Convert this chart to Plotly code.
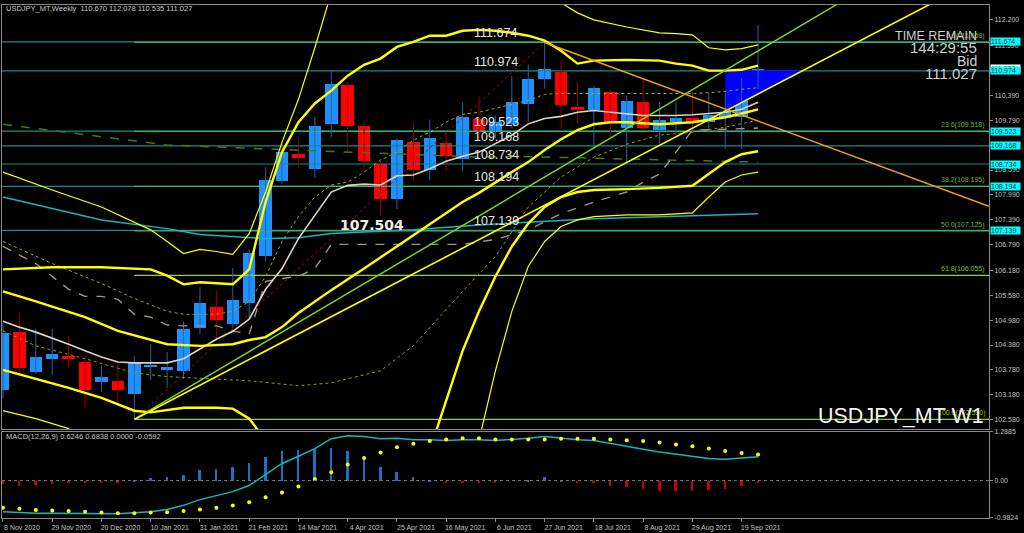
import pandas as pd
import plotly.graph_objects as go

# ---------------- data ----------------
START = pd.Timestamp("2020-11-08")
N = 47
dates = [START + pd.Timedelta(days=7 * i) for i in range(N)]

opens = [103.30, 104.70, 103.74, 104.04, 104.12, 103.96, 103.48, 103.52, 103.20, 103.85,
         103.79, 103.76, 104.78, 105.30, 104.89, 105.38, 106.51, 108.32, 108.98, 108.61,
         109.70, 110.63, 109.66, 108.74, 107.90, 109.26, 108.58, 109.23, 108.86, 109.82,
         109.50, 109.70, 110.17, 110.79, 110.95, 110.10, 110.04, 110.47, 109.60, 110.22,
         109.56, 109.74, 109.83, 109.75, 109.83, 109.87, 110.670]
highs = [104.90, 105.15, 104.77, 104.77, 104.60, 104.13, 103.88, 103.92, 104.12, 104.40,
         104.21, 104.95, 105.77, 105.69, 106.23, 106.69, 108.66, 109.22, 109.36, 109.86,
         110.97, 110.71, 109.78, 108.82, 109.35, 109.71, 109.80, 109.51, 110.22, 110.36,
         109.90, 110.85, 111.13, 111.658, 111.21, 110.71, 110.61, 110.53, 110.38, 110.77,
         110.23, 110.23, 110.47, 110.45, 110.45, 110.80, 112.078]
lows = [103.10, 103.64, 103.69, 103.66, 103.82, 102.87, 103.26, 102.96, 102.59, 103.54,
        103.35, 103.56, 104.64, 104.48, 104.79, 105.03, 106.39, 108.26, 108.64, 108.40,
        109.38, 109.02, 108.62, 107.504, 107.65, 108.34, 108.34, 108.57, 108.56, 109.34,
        109.35, 109.59, 109.74, 110.55, 109.58, 109.72, 109.10, 109.38, 108.76, 109.54,
        109.18, 109.48, 109.50, 109.50, 109.10, 109.10, 110.535]
closes = [104.68, 103.82, 104.08, 104.17, 104.04, 103.30, 103.62, 103.31, 103.96, 103.90,
          103.84, 104.76, 105.39, 104.97, 105.47, 106.59, 108.36, 109.02, 108.88, 109.64,
          110.67, 109.66, 108.80, 107.90, 109.32, 108.60, 109.36, 108.92, 109.86, 109.54,
          109.74, 110.22, 110.79, 111.01, 110.15, 110.04, 110.56, 109.74, 110.26, 109.59,
          109.80, 109.83, 109.72, 109.91, 109.98, 110.78, 111.027]

# MACD panel (values per candle)
macd_main = [-0.82, -0.845, -0.855, -0.855, -0.855, -0.87, -0.87, -0.87, -0.845, -0.82,
             -0.76, -0.65, -0.50, -0.39, -0.29, -0.13, 0.17, 0.45, 0.64, 0.84,
             1.10, 1.18, 1.16, 1.10, 1.11, 1.07, 1.07, 1.05, 1.07, 1.07,
             1.05, 1.08, 1.11, 1.16, 1.11, 1.07, 1.05, 0.97, 0.91, 0.82,
             0.75, 0.69, 0.64, 0.58, 0.56, 0.60, 0.6246]
macd_signal = [-0.715, -0.74, -0.77, -0.785, -0.80, -0.82, -0.835, -0.855, -0.855, -0.835,
               -0.83, -0.80, -0.76, -0.715, -0.655, -0.57, -0.44, -0.31, -0.155, 0.044,
               0.22, 0.425, 0.596, 0.736, 0.873, 0.97, 1.04, 1.08, 1.11, 1.11,
               1.08, 1.08, 1.08, 1.08, 1.10, 1.10, 1.10, 1.08, 1.06, 1.04,
               1.00, 0.95, 0.90, 0.84, 0.78, 0.725, 0.6838]
macd_hist = [-0.07, -0.13, -0.11, -0.08, -0.04, -0.04, -0.04, -0.03, 0.03, 0.08,
             0.10, 0.17, 0.30, 0.33, 0.38, 0.47, 0.64, 0.78, 0.82, 0.84,
             0.88, 0.79, 0.58, 0.36, 0.25, 0.10, 0.04, -0.04, -0.04, -0.04,
             -0.04, 0.0, 0.04, 0.10, 0.03, -0.03, -0.04, -0.14, -0.16, -0.22,
             -0.25, -0.26, -0.26, -0.24, -0.22, -0.14, -0.0592]

# horizontal levels
levels = [111.674, 110.974, 109.523, 109.168, 108.734, 108.194, 107.139]
level_labels = ["111.674", "110.974", "109.523", "109.168", "108.734", "108.194", "107.139"]
bid_price = 111.027
low_label = 107.504

# fibonacci (anchored low -> high)
fib_low_idx, fib_high_idx = 8, 33
fib_prices = [111.658, 109.518, 108.195, 107.125, 106.055, 102.590]
fib_names = ["0.0(111.658)", "23.6(109.518)", "38.2(108.195)", "50.0(107.125)",
             "61.8(106.055)", "100.0(102.590)"]

# trend lines (two anchor points each: week index, price)
tl_yellow = ([8, 48.7], [102.59, 110.974])
tl_green = ([8, 41.7], [102.59, 110.45])
tl_orange = ([33, 60], [111.658, 107.73])
triangle_idx = [44, 48.7, 44]
triangle_price = [110.974, 110.974, 110.0]

# indicator lines (week index, price)
ma_beige_idx = list(range(N))
ma_beige = [104.95, 104.81, 104.69, 104.55, 104.40, 104.24, 104.09, 103.97, 103.95, 103.95,
            103.95, 104.05, 104.28, 104.52, 104.71, 105.00, 105.72, 106.22, 106.94, 107.50,
            108.06, 108.22, 108.25, 108.23, 108.45, 108.47, 108.62, 108.80, 108.92, 109.02,
            109.22, 109.43, 109.70, 109.83, 109.88, 109.98, 110.02, 109.98, 109.95, 109.90,
            109.90, 109.90, 109.92, 109.95, 109.98, 110.05, 110.22]
gray_dash_idx = [0, 2, 4, 5, 6, 7, 8, 9, 10, 11, 13, 14, 15, 16, 17, 18, 19, 20, 28, 30,
                 32, 34, 36, 38, 39, 40, 41, 42, 44, 46]
gray_dash = [106.75, 106.34, 105.72, 105.55, 105.55, 105.48, 105.12, 105.05, 104.86, 104.84,
             104.84, 104.72, 104.64, 105.91, 105.98, 106.03, 106.22, 106.80, 106.80, 106.92,
             107.15, 107.54, 107.82, 108.06, 108.30, 108.49, 109.02, 109.55, 109.57, 109.60]
olive_a_idx = [0, 3, 6, 8, 10, 11, 13, 14, 15, 16, 17, 18, 19, 20, 21, 22, 23, 24, 25, 26,
               27, 28, 29, 30, 31, 32, 33, 34, 36, 42, 43, 44, 45, 46]
olive_a = [106.87, 106.34, 105.86, 105.50, 105.19, 105.12, 105.12, 105.19, 105.43, 106.03,
           106.87, 107.47, 107.94, 108.23, 108.30, 108.54, 108.83, 109.02, 109.31, 109.50,
           109.74, 109.93, 109.98, 110.07, 110.17, 110.26, 110.41, 110.43, 110.43, 110.43,
           110.45, 110.48, 110.53, 110.57]
olive_b_idx = [0, 2, 5, 8, 10, 13, 15, 18, 20, 23, 25, 28, 30, 32, 34, 36, 38, 40, 42, 44, 46]
olive_b = [104.72, 104.36, 104.05, 103.71, 103.62, 103.57, 103.52, 103.40, 103.47, 103.76,
           104.36, 105.67, 106.51, 107.70, 108.42, 108.90, 109.21, 109.43, 109.50, 109.62, 109.79]
cyan_idx = [0, 3, 6, 10, 12, 16, 18, 20, 25, 29, 33, 36, 42, 46]
cyan_ma = [107.94, 107.66, 107.39, 107.18, 107.04, 106.94, 106.96, 107.06, 107.15, 107.27,
           107.35, 107.42, 107.49, 107.54]
green_dash_idx = [0, 10, 29, 31, 46]
green_dash = [109.69, 109.19, 108.90, 108.92, 108.78]
bb_mid_idx = [0, 2, 5, 7, 10, 12, 14, 15, 16, 17, 18, 20, 22, 24, 26, 28, 29, 30, 31, 32,
              33, 34, 35, 36, 37, 38, 40, 42, 44, 45, 46]
bb_mid = [105.67, 105.43, 105.05, 104.72, 104.40, 104.36, 104.40, 104.50, 104.57, 104.81,
          105.15, 105.70, 106.22, 106.75, 107.30, 107.82, 108.04, 108.30, 108.54, 108.78,
          109.07, 109.33, 109.55, 109.69, 109.74, 109.74, 109.69, 109.74, 109.86, 109.95, 110.05]
bb_up_idx = [0, 3, 6, 9] + list(range(10, 37)) + [38, 40, 41, 42, 43, 44, 45, 46]
bb_up = [106.20, 106.25, 106.25, 106.20,
         106.05, 105.84, 105.89, 105.86, 105.84, 106.20, 107.82, 109.02, 109.74, 110.19,
         110.50, 110.86, 111.12, 111.27, 111.55, 111.67, 111.82, 111.82, 111.94, 111.96,
         111.94, 111.89, 111.82, 111.70, 111.46, 111.15, 111.22,
         111.24, 111.22, 111.15, 111.10, 110.98, 110.98, 111.00, 111.10]
bb_lo_idx = [0, 2, 4, 6, 8, 9, 11, 13, 14, 15, 16, 17, 20, 24, 26, 27, 28, 29, 30, 31,
             32, 33, 34, 35, 36, 38, 40, 42, 43, 44, 45, 46]
bb_lo = [103.78, 103.57, 103.35, 103.11, 102.80, 102.76, 102.87, 102.87, 102.85, 102.61,
         102.09, 100.65, 98.26, 98.26, 101.85, 103.04, 104.24, 105.19, 106.03, 106.75,
         107.30, 107.70, 107.94, 108.06, 108.11, 108.13, 108.16, 108.21, 108.49, 108.78,
         108.97, 109.04]
env_up_idx = [0, 3, 6, 9] + list(range(10, 21)) + [22, 25, 28, 31, 33, 34, 35, 36, 38, 40,
                                                   41, 42, 43, 44, 45, 46]
env_up = [108.54, 108.11, 107.70, 107.15,
          106.87, 106.58, 106.68, 106.63, 106.56, 107.06, 108.06, 109.26, 110.29, 111.53, 112.85,
          114.04, 114.76, 114.76, 114.04, 113.08, 112.61, 112.37, 112.20, 112.03, 111.89,
          111.87, 111.84, 111.53, 111.48, 111.51, 111.60]
env_lo_idx = [0, 2, 4, 5, 8, 20, 28, 29, 30, 31, 32, 33, 34, 35, 36, 38, 40, 42, 43, 44, 45, 46]
env_lo = [102.80, 102.61, 102.37, 101.97, 100.17, 97.00, 100.65, 102.09, 103.76, 105.19,
          106.27, 106.87, 107.23, 107.39, 107.47, 107.51, 107.51, 107.56, 107.94, 108.30,
          108.47, 108.54]

# ---------------- helpers ----------------
def wk(i):
    return START + pd.Timedelta(days=7 * i)

def wks(idx):
    return [wk(i) for i in idx]

X0, X1 = wk(-0.06), wk(60.07)
WEEK_MS = 7 * 24 * 3600 * 1000
FONT = "Liberation Sans, Arial, sans-serif"

def ray(pts, end_idx=60.07):
    (i0, i1), (p0, p1) = pts
    slope = (p1 - p0) / (i1 - i0)
    return [wk(i0), wk(end_idx)], [p0, p0 + slope * (end_idx - i0)]

fig = go.Figure()

def line(x, y, color, width=1, dash="solid", xa="x", ya="y"):
    fig.add_trace(go.Scatter(x=x, y=y, mode="lines", xaxis=xa, yaxis=ya,
                             line=dict(color=color, width=width, dash=dash),
                             hoverinfo="skip", showlegend=False))

# horizontal teal levels (full width)
for lv in levels:
    line([X0, X1], [lv, lv], "#138c8c", 1.2)

# blue triangle object
fig.add_trace(go.Scatter(x=wks(triangle_idx), y=triangle_price, fill="toself",
                         fillcolor="#0000ff", mode="lines", line=dict(color="#0000ff", width=1),
                         hoverinfo="skip", showlegend=False))

# fibonacci levels
fib_colors = ["#3cb371", "#3cb371", "#3cb371", "#3cb371", "#9acd32", "#9acd32"]
for fp, fc in zip(fib_prices, fib_colors):
    line([wk(fib_low_idx), X1], [fp, fp], fc, 1.3)
line([wk(fib_low_idx), wk(fib_high_idx)], [fib_prices[-1], fib_prices[0]], "#a01010", 1, "dot")

# candles: wicks
up = [c >= o for o, c in zip(opens, closes)]
for flag, col in [(True, "#2464a8"), (False, "#9a0000")]:
    wx, wy = [], []
    for i in range(N):
        if up[i] == flag:
            wx += [dates[i], dates[i], None]
            wy += [lows[i], highs[i], None]
    line(wx, wy, col, 1)

# candles: bodies
fig.add_trace(go.Bar(
    x=dates,
    y=[max(abs(c - o), 0.03) for o, c in zip(opens, closes)],
    base=[min(o, c) for o, c in zip(opens, closes)],
    width=0.76 * WEEK_MS,
    marker=dict(color=["#1e90ff" if u else "#ff0000" for u in up], line=dict(width=0)),
    hoverinfo="skip", showlegend=False))

# indicators
line(wks(cyan_idx), cyan_ma, "#18b4c4", 1.5)
line(wks(green_dash_idx), green_dash, "#3f7a1e", 1.5, "dash")
line(wks(olive_b_idx), olive_b, "#9a9a00", 1, "dot")
line(wks(olive_a_idx), olive_a, "#a8a800", 1, "dot")
line(wks(gray_dash_idx), gray_dash, "#a09484", 1.4, "dash")
line(wks(ma_beige_idx), ma_beige, "#e2d2c2", 1.6)
line(wks(env_up_idx), env_up, "#ffff00", 1.2)
line(wks(env_lo_idx), env_lo, "#ffff00", 1.2)
line(wks(bb_up_idx), bb_up, "#ffff00", 2.4)
line(wks(bb_lo_idx), bb_lo, "#ffff00", 2.4)
line(wks(bb_mid_idx), bb_mid, "#ffff00", 2.4)

# trend lines
gx, gy = ray(tl_green)
line(gx, gy, "#7fd11b", 1.5)
yx, yy = ray(tl_yellow)
line(yx, yy, "#ffff00", 1.6)
ox, oy = ray(tl_orange)
line([wk(tl_orange[0][0]), X1], [tl_orange[1][0], oy[1]], "#f0a020", 1.5)

# MACD panel
fig.add_trace(go.Bar(x=dates, y=macd_hist, xaxis="x2", yaxis="y2", width=0.12 * WEEK_MS,
                     marker=dict(color=["#1e6ec8" if v >= 0 else "#cc0000" for v in macd_hist],
                                 line=dict(width=0)),
                     hoverinfo="skip", showlegend=False))
line(dates, macd_main, "#19b5bd", 1.5, xa="x2", ya="y2")
fig.add_trace(go.Scatter(x=dates, y=macd_signal, mode="markers", xaxis="x2", yaxis="y2",
                         marker=dict(color="#ffff00", size=4), hoverinfo="skip", showlegend=False))

# ---------------- annotations ----------------
ann = []
def txt(text, x, y, size, color, xanchor="left", yanchor="middle", xref="paper", yref="paper",
        family=FONT, **kw):
    ann.append(dict(text=text, x=x, y=y, xref=xref, yref=yref, xanchor=xanchor, yanchor=yanchor,
                    showarrow=False, font=dict(size=size, color=color, family=family), **kw))

PW = 988.0
def px(xp):
    return (xp - 1) / PW
def py(yp):
    return (518 - yp) / 516.0

txt("USDJPY_MT,Weekly  110.670 112.078 110.535 111.027", px(3), py(6), 7.5, "#c8c8c8")
txt("MACD(12,26,9) 0.6246 0.6838 0.0000 -0.0592", px(3), py(436), 7.5, "#c8c8c8")

for lv, lab in zip(levels, level_labels):
    txt(lab, px(471), lv, 12.5, "#e6e6e6", yanchor="bottom", yref="y")
txt(f"<b>{low_label:.3f}</b>", px(337), low_label, 14, "#f2ece4", yanchor="top", yref="y",
    family="DejaVu Sans, sans-serif")

for fp, fn, fc in zip(fib_prices, fib_names, ["#6fae2a"] * 4 + ["#8fbf1a"] * 2):
    txt(fn, px(987), fp, 7, fc, xanchor="right", yanchor="bottom", yref="y")

txt("TIME REMAIN", px(979), py(33), 12.5, "#cfcfcf", xanchor="right")
txt("144:29:55", px(979), py(45), 15, "#cfcfcf", xanchor="right")
txt("Bid", px(979), py(58), 14, "#cfcfcf", xanchor="right")
txt("111.027", px(979), py(70.5), 15, "#cfcfcf", xanchor="right")
txt("USDJPY_MT W1", px(986), py(415), 21.5, "#f4f4f4", xanchor="right")

# price boxes on right axis
ann.append(dict(text=f"{bid_price:.3f}", x=1, y=bid_price, xref="paper", yref="y",
                xanchor="left", yanchor="middle", xshift=1, showarrow=False, bgcolor="#ffffff",
                width=29, align="left", borderpad=0, font=dict(size=7, color="#000000", family=FONT)))
for lv, lab in zip(levels, level_labels):
    ann.append(dict(text=lab, x=1, y=lv, xref="paper", yref="y", xanchor="left",
                    yanchor="middle", xshift=1, showarrow=False, bgcolor="#00ffff", width=29,
                    align="left", borderpad=0, font=dict(size=7, color="#003040", family=FONT)))

# ---------------- layout ----------------
main_ticks = [112.20, 111.59, 110.99, 110.39, 109.79, 109.19, 108.59, 107.99, 107.39,
              106.79, 106.18, 105.58, 104.98, 104.38, 103.78, 103.18, 102.58]
axis_common = dict(showgrid=False, zeroline=False, showline=True, mirror=True,
                   linecolor="#8a8a8a", linewidth=1)
fig.update_layout(
    width=1024, height=533,
    margin=dict(l=1, r=35, t=2, b=15),
    paper_bgcolor="#000000", plot_bgcolor="#000000",
    showlegend=False, bargap=0, barmode="overlay",
    font=dict(family=FONT, size=7, color="#c0c0c0"),
    annotations=ann,
    xaxis=dict(domain=[0, 1], anchor="y", type="date", range=[X0, X1],
               showticklabels=False, ticks="", **axis_common),
    xaxis2=dict(domain=[0, 1], anchor="y2", type="date", range=[X0, X1], matches="x",
                tickmode="array", tickvals=dates[::3], tickformat="%-d %b %Y",
                ticks="outside", ticklen=3, tickcolor="#8a8a8a", ticklabelshift=19,
                tickfont=dict(size=7, color="#c0c0c0"), **axis_common),
    yaxis=dict(domain=[0.1735, 1], anchor="x", side="right", range=[102.360, 112.559],
               tickmode="array", tickvals=main_ticks,
               ticktext=[f"{v:.3f}" for v in main_ticks], ticks="outside", ticklen=3,
               tickcolor="#8a8a8a", tickfont=dict(size=7, color="#c0c0c0"), **axis_common),
    yaxis2=dict(domain=[0, 0.1686], anchor="x2", side="right", range=[-0.9824, 1.2885],
                tickmode="array", tickvals=[1.2885, 0.0, -0.9824],
                ticktext=["1.2885", "0.00", "-0.9824"], ticks="outside", ticklen=3,
                tickcolor="#8a8a8a", tickfont=dict(size=7, color="#c0c0c0"), **axis_common),
    shapes=[dict(type="line", xref="paper", x0=0, x1=1, yref="y2", y0=0, y1=0,
                 line=dict(color="#7a7a7a", width=1, dash="dot"))],
)

fig.write_html("out.html", config={"displayModeBar": False},
               post_script="document.body.style.margin='0';document.body.style.overflow='hidden';")
